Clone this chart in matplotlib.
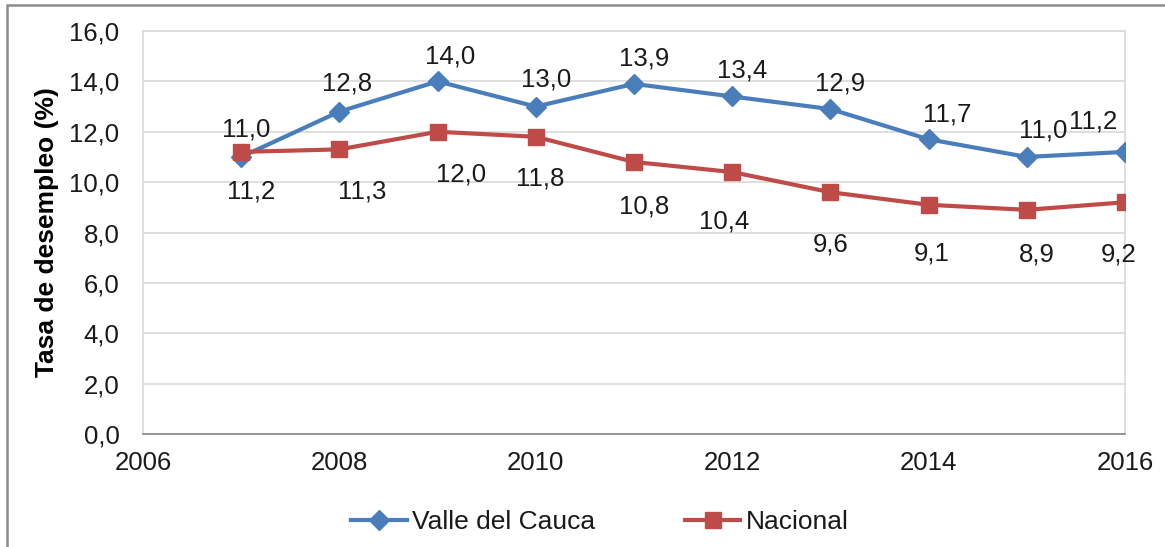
import matplotlib
matplotlib.use("Agg")
import matplotlib.pyplot as plt
from matplotlib.patches import Rectangle
from matplotlib.ticker import FuncFormatter, MultipleLocator

years = [2007, 2008, 2009, 2010, 2011, 2012, 2013, 2014, 2015, 2016]
valle = [11.0, 12.8, 14.0, 13.0, 13.9, 13.4, 12.9, 11.7, 11.0, 11.2]
nacional = [11.2, 11.3, 12.0, 11.8, 10.8, 10.4, 9.6, 9.1, 8.9, 9.2]
series_names = ["Valle del Cauca", "Nacional"]
y_label = "Tasa de desempleo (%)"

plt.rcParams['font.family'] = ['Liberation Sans', 'DejaVu Sans']

W, H = 1165, 547
fig = plt.figure(figsize=(W / 100, H / 100), dpi=100)
ax = fig.add_axes([143 / W, 1 - 434 / H, (1125 - 143) / W, (434 - 31) / H])

blue = '#4a7ebb'
red = '#be4b48'
txt = '#1a1a1a'
FS = 18.5

ax.plot(years, valle, color=blue, lw=3, marker='D', ms=10, zorder=3,
        label=series_names[0])
ax.plot(years, nacional, color=red, lw=3, marker='s', ms=12, zorder=4,
        label=series_names[1])

ax.set_xlim(2006, 2016)
ax.set_ylim(0, 16)
ax.xaxis.set_major_locator(MultipleLocator(2))
ax.yaxis.set_major_locator(MultipleLocator(2))
ax.yaxis.set_major_formatter(FuncFormatter(lambda v, p: f"{v:.1f}".replace('.', ',')))
ax.tick_params(length=0, labelsize=FS, colors=txt)
ax.tick_params(axis='y', pad=17)
ax.tick_params(axis='x', pad=12)
ax.grid(axis='y', color='#d9d9d9', lw=1.2)
ax.set_axisbelow(True)
for s in ['left', 'right', 'top']:
    ax.spines[s].set_color('#d9d9d9')
    ax.spines[s].set_linewidth(1.2)
ax.spines['bottom'].set_color('#868686')
ax.spines['bottom'].set_linewidth(1.2)

ax.set_ylabel(y_label, fontsize=19, fontweight='bold', labelpad=7)

fmt = lambda v: f"{v:.1f}".replace('.', ',')
# label offsets in pixels: (dx, dy of digit centre relative to the point)
v_off = [(5, 30), (8, 30), (13, 27), (10, 29), (10, 28), (10, 28), (10, 28),
         (19, 27), (16, 29), (-32, 33)]
n_off = [(10, -37), (23, -40), (23, -41), (4, -40), (10, -42), (-8, -47),
         (0, -50), (3, -47), (10, -42), (-6, -50)]
half_digit = 0.716 * FS * 100 / 72 / 2
for series, offs in ((valle, v_off), (nacional, n_off)):
    for x, v, (dx, dy) in zip(years, series, offs):
        ax.annotate(fmt(v), (x, v), xytext=(dx, dy - half_digit),
                    textcoords='offset pixels', ha='center', va='baseline',
                    fontsize=FS, color=txt, annotation_clip=False)

fig.legend(loc='center', bbox_to_anchor=(600 / W, 1 - 522 / H), ncol=2,
           frameon=False, fontsize=19, handlelength=2.1, handletextpad=0.2,
           columnspacing=3.4, labelcolor=txt)

# outer chart border
fig.patches.append(Rectangle((7 / W, -0.05), 1.1, 1 - 5 / H + 0.05,
                             transform=fig.transFigure, fill=False,
                             edgecolor='#8c8c8c', lw=1.8, zorder=0))

fig.savefig('out.png', dpi=100)
